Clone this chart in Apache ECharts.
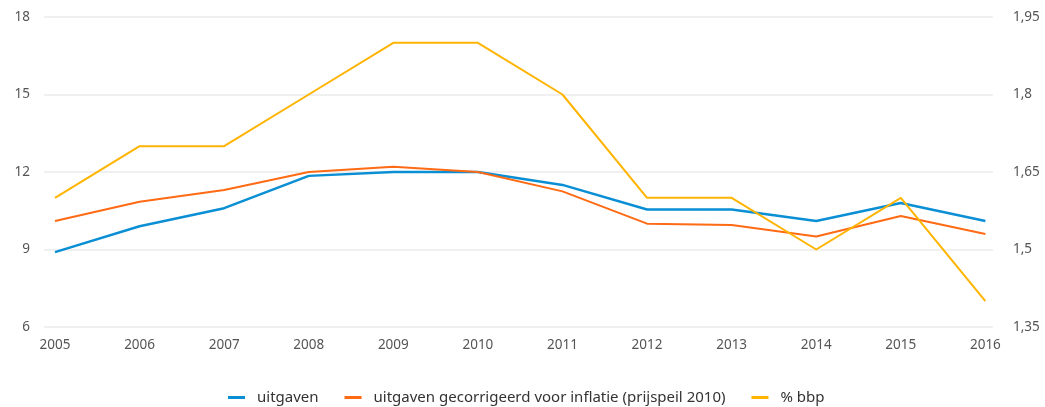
<!DOCTYPE html>
<html>
<head>
<meta charset="utf-8">
<script src="https://cdn.jsdelivr.net/npm/echarts@6/dist/echarts.min.js"></script>
<style>
  html, body { margin: 0; padding: 0; background: #fff; }
  #chart { width: 1045px; height: 407px; }
</style>
</head>
<body>
<div id="chart"></div>
<script>
var years = [2005, 2006, 2007, 2008, 2009, 2010, 2011, 2012, 2013, 2014, 2015, 2016]
var uitgaven = [8.9, 9.9, 10.6, 11.85, 12.0, 12.0, 11.5, 10.55, 10.55, 10.1, 10.8, 10.1]
var gecorrigeerd = [10.1, 10.85, 11.3, 12.0, 12.2, 12.0, 11.25, 10.0, 9.95, 9.5, 10.3, 9.6]
var bbp = [1.6, 1.7, 1.7, 1.8, 1.9, 1.9, 1.8, 1.6, 1.6, 1.5, 1.6, 1.4]
var leftTicks = [6, 9, 12, 15, 18]
var rightTicks = [1.35, 1.5, 1.65, 1.8, 1.95]

function pairs(vals) {
  return years.map(function(y, i) { return [y, vals[i]] })
}

var chart = echarts.init(document.getElementById('chart'))
var labelFont = { color: '#555', fontSize: 13.5, fontFamily: 'Noto Sans' }

chart.setOption({
  animation: false,
  grid: { top: 17, bottom: 80, left: 44, right: 52 },
  legend: {
    top: 385,
    left: 223,
    padding: 5,
    icon: 'rect',
    itemWidth: 17,
    itemHeight: 3,
    itemGap: 26,
    textStyle: { color: '#333', fontSize: 15, fontFamily: 'Noto Sans', padding: [0, 0, 0, 7] },
    data: ['uitgaven', 'uitgaven gecorrigeerd voor inflatie (prijspeil 2010)', '% bbp']
  },
  xAxis: {
    type: 'value',
    min: 2004.87,
    max: 2016.09,
    axisLine: { show: false },
    axisTick: { show: false },
    splitLine: { show: false },
    axisLabel: Object.assign({
      customValues: years,
      margin: 11,
      formatter: function(v) { return String(v) }
    }, labelFont)
  },
  yAxis: [{
    type: 'value',
    min: leftTicks[0],
    max: leftTicks[leftTicks.length - 1],
    interval: 3,
    axisLine: { show: false },
    axisTick: { show: false },
    splitLine: { lineStyle: { color: '#ebebeb', width: 1.5 } },
    axisLabel: Object.assign({ margin: 14 }, labelFont)
  }, {
    type: 'value',
    min: rightTicks[0],
    max: rightTicks[rightTicks.length - 1],
    interval: 0.15,
    axisLine: { show: false },
    axisTick: { show: false },
    splitLine: { show: false },
    axisLabel: Object.assign({
      margin: 20,
      formatter: function(v) { return String(+v.toFixed(2)).replace('.', ',') }
    }, labelFont)
  }],
  series: [{
    name: 'uitgaven',
    type: 'line',
    showSymbol: false,
    color: '#0a8fd4',
    lineStyle: { width: 2.5 },
    data: pairs(uitgaven)
  }, {
    name: 'uitgaven gecorrigeerd voor inflatie (prijspeil 2010)',
    type: 'line',
    showSymbol: false,
    color: '#ff6a14',
    lineStyle: { width: 2 },
    data: pairs(gecorrigeerd)
  }, {
    name: '% bbp',
    type: 'line',
    yAxisIndex: 1,
    showSymbol: false,
    color: '#ffb400',
    lineStyle: { width: 2 },
    data: pairs(bbp)
  }]
})
</script>
</body>
</html>
